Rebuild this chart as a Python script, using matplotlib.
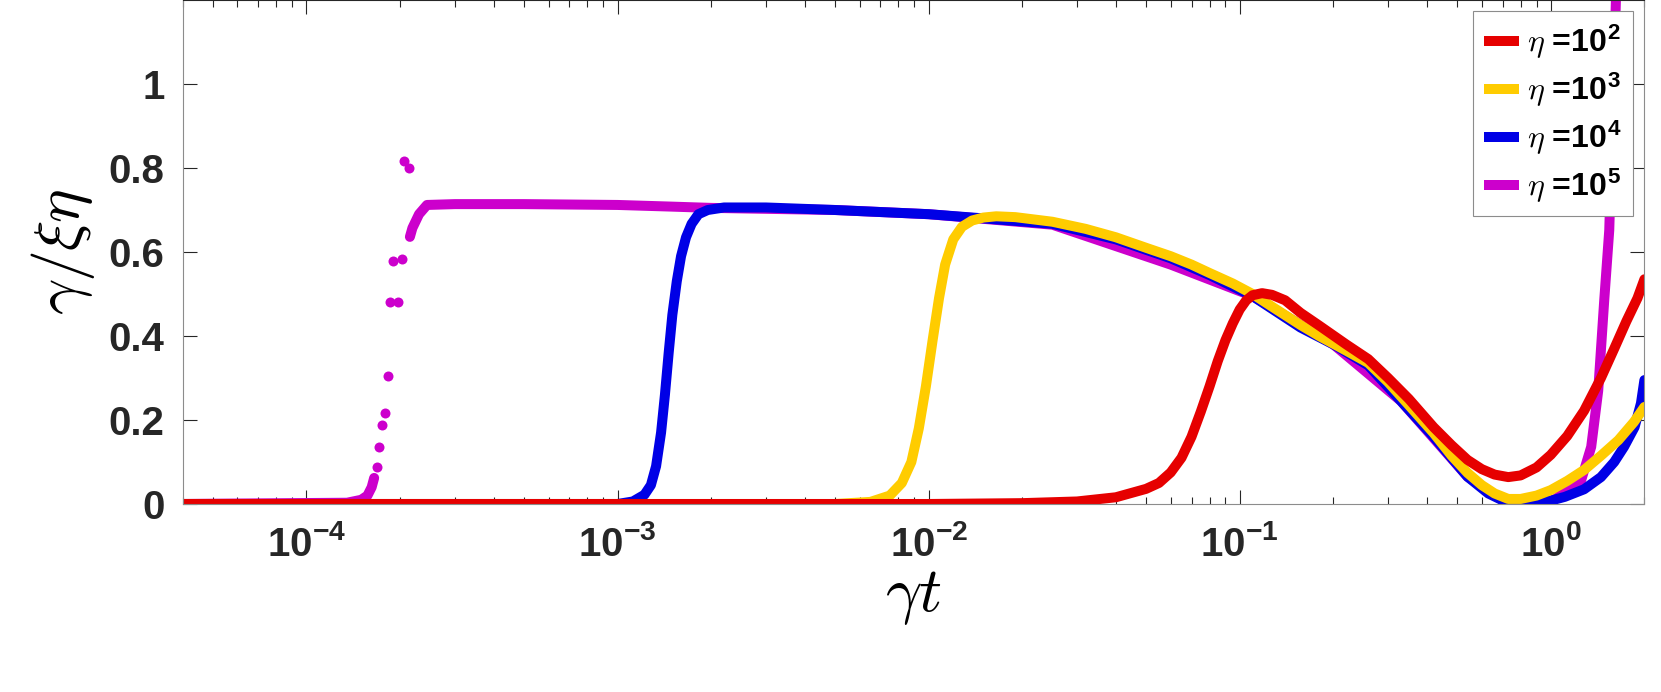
import matplotlib
matplotlib.use('Agg')
import matplotlib.pyplot as plt
import numpy as np

plt.rcParams['font.family'] = ['Liberation Sans', 'DejaVu Sans']
plt.rcParams['font.weight'] = 'bold'
plt.rcParams['mathtext.fontset'] = 'cm'
plt.rcParams['axes.unicode_minus'] = False

# eta = 10^2
red_t = [4e-5, 1e-3, 0.01, 0.02, 0.03, 0.04, 0.05, 0.055, 0.06, 0.065, 0.07, 0.075,
         0.08, 0.085, 0.09, 0.095, 0.1, 0.105, 0.11, 0.118, 0.127, 0.14, 0.157, 0.18,
         0.22, 0.259, 0.3, 0.35, 0.42, 0.48, 0.54, 0.6, 0.66, 0.73, 0.8, 0.9, 1.0,
         1.13, 1.28, 1.45, 1.6, 1.75, 1.9, 2.0]
red_y = [0, 0, 0, 0.002, 0.006, 0.016, 0.036, 0.05, 0.075, 0.11, 0.16, 0.22,
         0.28, 0.34, 0.39, 0.43, 0.463, 0.485, 0.497, 0.502, 0.498, 0.485, 0.455, 0.425,
         0.38, 0.345, 0.30, 0.25, 0.183, 0.14, 0.105, 0.083, 0.07, 0.064, 0.068, 0.087, 0.117,
         0.162, 0.222, 0.30, 0.37, 0.435, 0.49, 0.535]

# eta = 10^3
yel_t = [4e-5, 5e-3, 6.5e-3, 7.5e-3, 8.2e-3, 8.8e-3, 9.3e-3, 9.8e-3, 1.03e-2, 1.08e-2,
         1.13e-2, 1.2e-2, 1.28e-2, 1.38e-2, 1.5e-2, 1.65e-2, 1.9e-2, 2.5e-2, 3.2e-2, 4e-2,
         5e-2, 6e-2, 7e-2, 8e-2, 9.5e-2, 0.11, 0.13, 0.157, 0.18, 0.22, 0.259, 0.3, 0.35,
         0.42, 0.48, 0.54, 0.6, 0.66, 0.73, 0.8, 0.9, 1.0, 1.13, 1.28, 1.45, 1.65, 1.85, 2.0]
yel_y = [0, 0, 0.005, 0.02, 0.05, 0.1, 0.18, 0.28, 0.39, 0.49,
         0.57, 0.63, 0.66, 0.675, 0.682, 0.685, 0.683, 0.672, 0.655, 0.635,
         0.61, 0.59, 0.57, 0.55, 0.525, 0.50, 0.465, 0.426, 0.40, 0.365, 0.336, 0.29, 0.235,
         0.169, 0.115, 0.074, 0.045, 0.025, 0.012, 0.012, 0.02, 0.033, 0.055, 0.081, 0.115,
         0.152, 0.195, 0.231]

# eta = 10^4
blue_t = [4e-5, 1.0e-3, 1.12e-3, 1.22e-3, 1.28e-3, 1.33e-3, 1.38e-3, 1.42e-3, 1.46e-3,
          1.5e-3, 1.55e-3, 1.6e-3, 1.66e-3, 1.73e-3, 1.82e-3, 1.95e-3, 2.2e-3, 3e-3, 5e-3,
          1e-2, 1.5e-2, 2.5e-2, 4e-2, 6e-2, 8e-2, 0.11, 0.157, 0.2, 0.259, 0.33, 0.42, 0.54,
          0.63, 0.73, 0.85, 1.0, 1.11, 1.28, 1.45, 1.6, 1.72, 1.86, 1.95, 2.0]
blue_y = [0, 0, 0.006, 0.022, 0.045, 0.09, 0.17, 0.26, 0.36,
          0.45, 0.53, 0.59, 0.635, 0.667, 0.69, 0.70, 0.706, 0.706, 0.70,
          0.69, 0.68, 0.667, 0.63, 0.585, 0.545, 0.495, 0.42, 0.38, 0.33, 0.245, 0.16, 0.065,
          0.025, 0.002, 0.003, 0.008, 0.017, 0.035, 0.064, 0.10, 0.136, 0.183, 0.24, 0.295]

# eta = 10^5 : base of the jump, isolated points, then the rest of the curve
mag_low_t = [4e-5, 1.35e-4, 1.5e-4, 1.57e-4, 1.62e-4, 1.65e-4]
mag_low_y = [0, 0.003, 0.01, 0.02, 0.04, 0.062]
mag_dot_t = [1.69e-4, 1.71e-4, 1.75e-4, 1.79e-4, 1.83e-4, 1.86e-4, 1.97e-4, 1.90e-4,
             2.03e-4, 2.06e-4, 2.14e-4]
mag_dot_y = [0.088, 0.136, 0.188, 0.217, 0.305, 0.48, 0.48, 0.578, 0.583, 0.817, 0.80]
mag_t = [2.15e-4, 2.19e-4, 2.3e-4, 2.44e-4, 3e-4, 5e-4, 1e-3, 1.5e-3, 2e-3, 5e-3, 1e-2,
         2.5e-2, 6e-2, 0.11, 0.2, 0.33, 0.54, 0.73, 0.884, 1.026, 1.253, 1.349, 1.421,
         1.486, 1.542, 1.62, 1.65]
mag_y = [0.636, 0.657, 0.69, 0.712, 0.714, 0.714, 0.712, 0.708, 0.705, 0.70, 0.69,
         0.665, 0.57, 0.495, 0.38, 0.245, 0.065, 0.0, 0.0, 0.01, 0.057, 0.136, 0.27,
         0.486, 0.652, 1.2, 1.35]

labels = [r'$\eta$ =10$^{\mathdefault{2}}$', r'$\eta$ =10$^{\mathdefault{3}}$',
          r'$\eta$ =10$^{\mathdefault{4}}$', r'$\eta$ =10$^{\mathdefault{5}}$']
colors = ['#e60000', '#ffcc00', '#0000e6', '#cc00cc']

fig = plt.figure(figsize=(16.61, 6.92), dpi=100)
ax = fig.add_axes([0.1100, 0.2717, 0.8800, 0.7283])

lw = 7.2
ax.plot(mag_low_t, mag_low_y, color=colors[3], lw=lw, solid_capstyle='round')
ax.plot(mag_dot_t, mag_dot_y, 'o', color=colors[3], ms=7.2, mew=0)
l4, = ax.plot(mag_t, mag_y, color=colors[3], lw=lw, solid_capstyle='round')
l3, = ax.plot(blue_t, blue_y, color=colors[2], lw=lw, solid_capstyle='round')
l2, = ax.plot(yel_t, yel_y, color=colors[1], lw=lw, solid_capstyle='round')
l1, = ax.plot(red_t, red_y, color=colors[0], lw=lw, solid_capstyle='round')

ax.set_xscale('log')
ax.set_xlim(4e-5, 2)
ax.set_ylim(0, 1.2)
ax.set_xticks([1e-4, 1e-3, 1e-2, 1e-1, 1])
ax.set_yticks([0, 0.2, 0.4, 0.6, 0.8, 1])
ax.set_yticklabels(['0', '0.2', '0.4', '0.6', '0.8', '1'])

ax.tick_params(which='both', direction='in', top=True, right=True,
               labelsize=29, colors='#262626', width=0.8)
ax.tick_params(which='major', length=10)
ax.tick_params(which='minor', length=5)
ax.tick_params(axis='x', pad=15)
ax.tick_params(axis='y', pad=13)
for s in ['left', 'bottom', 'right']:
    ax.spines[s].set_color('#8c8c8c')
ax.spines['top'].set_color('#262626')

ax.set_xlabel(r'$\gamma t$', fontsize=46, va='center')
ax.xaxis.set_label_coords(0.5, -0.185)
ax.set_ylabel(r'$\gamma/\xi\eta$', fontsize=46, va='center')
ax.yaxis.set_label_coords(-0.082, 0.5)

leg = fig.legend([l1, l2, l3, l4], labels, loc='upper right',
                 bbox_to_anchor=(1633 / 1661, 1 - 11 / 692), bbox_transform=fig.transFigure,
                 prop={'size': 23, 'weight': 'bold'}, handlelength=1.1, handletextpad=0.25,
                 labelspacing=0.3, borderpad=0.35, borderaxespad=0, fancybox=False,
                 framealpha=1, edgecolor='#8c8c8c')
leg.get_frame().set_linewidth(0.8)
for h in leg.get_lines():
    h.set_linewidth(7.2)
    h.set_solid_capstyle('butt')

fig.savefig('out.png', dpi=100)
